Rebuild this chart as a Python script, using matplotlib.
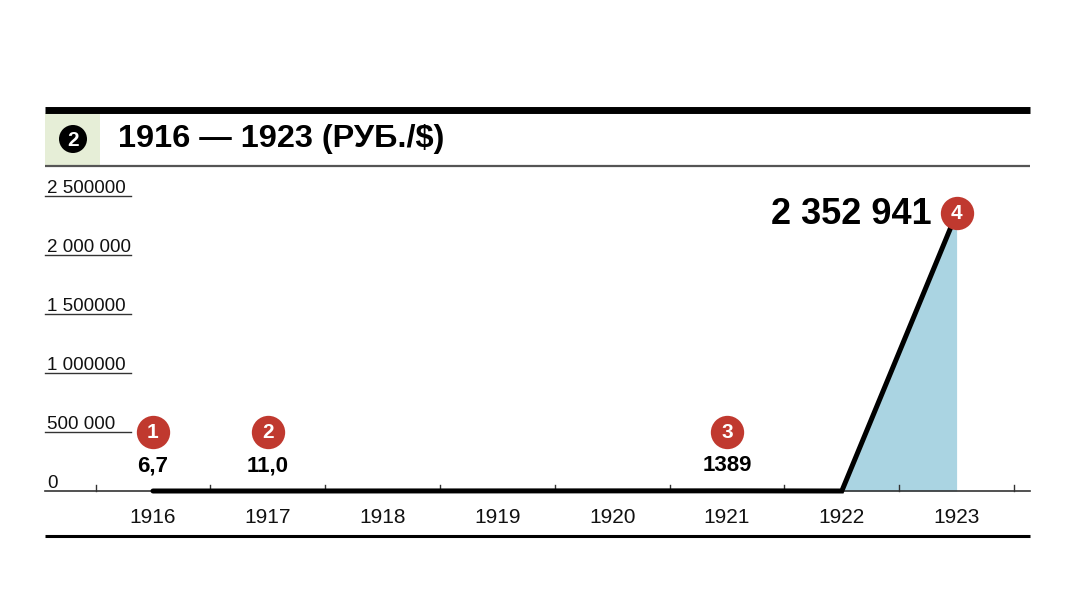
import matplotlib
matplotlib.use("Agg")
import matplotlib.pyplot as plt
from matplotlib.patches import Circle, Rectangle
import matplotlib.transforms as mtransforms

plt.rcParams['font.family'] = ['Liberation Sans', 'DejaVu Sans']

# ---- data ----
years = [1916, 1917, 1918, 1919, 1920, 1921, 1922, 1923]
rates = [6.7, 11.0, 0, 0, 0, 1389, 0, 2352941]  # 1918-1920, 1922: ~0 at this scale
year_labels = ['1916', '1917', '1918', '1919', '1920', '1921', '1922', '1923']
line_years = [1916, 1917, 1921, 1922, 1923]
line_vals = [6.7, 11.0, 1389, 0, 2352941]
marker_years = [1916, 1917, 1921, 1923]
marker_vals = [6.7, 11.0, 1389, 2352941]
marker_nums = ['1', '2', '3', '4']
marker_texts = ['6,7', '11,0', '1389', '2 352 941']
ytick_vals = [0, 500000, 1000000, 1500000, 2000000, 2500000]
ytick_labels = ['0', '500 000', '1 000000', '1 500000', '2 000 000', '2 500000']
title = '1916 — 1923 (РУБ./$)'

W, H = 1080, 602
fig = plt.figure(figsize=(W / 100, H / 100), dpi=100)

# overlay axes in pixel coordinates for decorations
deco = fig.add_axes([0, 0, 1, 1])
deco.set_xlim(0, W)
deco.set_ylim(H, 0)
deco.axis('off')

RED = '#c0392f'
BLUE = '#aad4e2'

# header
deco.add_patch(Rectangle((45, 113), 55, 53, facecolor='#e6eed7', edgecolor='none'))
deco.plot([45, 1030], [110, 110], color='black', lw=5, solid_capstyle='butt')
deco.plot([45, 1030], [166, 166], color='#555555', lw=1.6, solid_capstyle='butt')
deco.add_patch(Circle((73, 139), 14, facecolor='black', edgecolor='none'))
deco.text(73, 140, '2', color='white', fontsize=15, fontweight='bold', ha='center', va='center')
deco.text(118, 139, title, fontsize=23.4, fontweight='bold', ha='left', va='center')
deco.plot([45, 1030], [536, 536], color='black', lw=2.2, solid_capstyle='butt')

# data axes
x0, x1 = 45, 1030
y_zero, y_top = 491, 196
ax = fig.add_axes([x0 / W, (H - y_zero) / H, (x1 - x0) / W, (y_zero - y_top) / H])
px_per_year = 114.8
xmin = 1916 - (153 - x0) / px_per_year
xmax = 1916 + (x1 - 153) / px_per_year
ax.set_xlim(xmin, xmax)
ax.set_ylim(0, 2500000)
ax.axis('off')
ax.patch.set_alpha(0)

# baseline
ax.axhline(0, color='#333333', lw=1.2, clip_on=False)
# ticks between years
tr_tick = mtransforms.blended_transform_factory(ax.transData, ax.transAxes)
for i in range(len(years) + 1):
    xt = years[0] - 0.5 + i
    ax.plot([xt, xt], [0, 0.022], color='#333333', lw=1.0, transform=tr_tick, clip_on=False)

# y labels with underlines
tr_y = mtransforms.blended_transform_factory(ax.transAxes, ax.transData)
for v, lab in zip(ytick_vals, ytick_labels):
    if v > 0:
        ax.plot([0, 86 / (x1 - x0)], [v, v], color='#333333', lw=1.0, transform=tr_y, clip_on=False)
    ax.text(2 / (x1 - x0), v - 12000, lab, fontsize=13.5, ha='left', va='bottom', transform=tr_y,
            color='#111111')

# fill and line
ax.fill_between(line_years[-2:], [0, 0], line_vals[-2:], color=BLUE, lw=0, zorder=1)
ax.plot(line_years, line_vals, color='black', lw=3.6, solid_capstyle='round',
        solid_joinstyle='miter', clip_on=False, zorder=3)

# year labels
for y, lab in zip(years, year_labels):
    ax.text(y, -225000, lab, fontsize=15, ha='center', va='center', color='#111111')

# markers
for yr, val, num, txt in zip(marker_years, marker_vals, marker_nums, marker_texts):
    if val > 1000000:
        cy = val
        ax.text(yr - 0.22, cy - 10000, txt, fontsize=26, fontweight='bold', ha='right', va='center', zorder=5)
    else:
        cy = 500000
        ax.text(yr, 215000, txt, fontsize=16, fontweight='bold', ha='center', va='center', zorder=5)
    ax.plot(yr, cy, 'o', ms=24, color=RED, mec='none', zorder=6, clip_on=False)
    ax.text(yr, cy, num, fontsize=15, fontweight='bold', color='white', ha='center', va='center', zorder=7)

fig.savefig('out.png', dpi=100)
